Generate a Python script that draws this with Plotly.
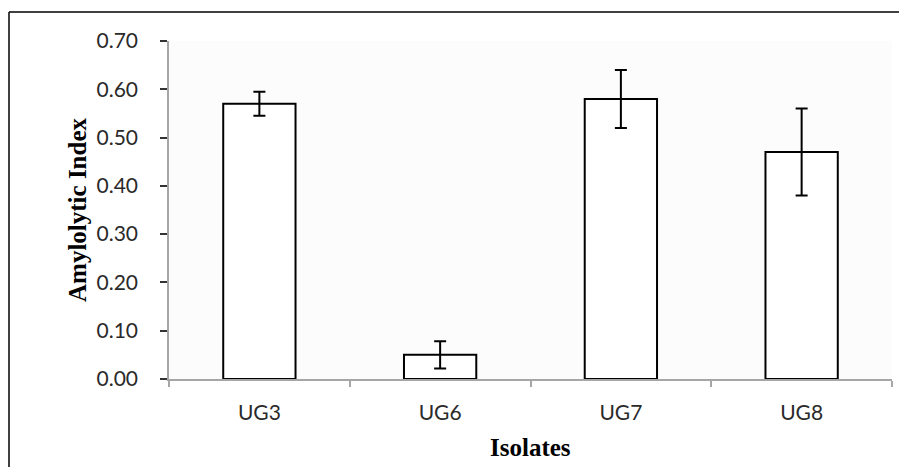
import plotly.graph_objects as go

isolates = ["UG3", "UG6", "UG7", "UG8"]
amylolytic_index = [0.57, 0.05, 0.58, 0.47]
error_sd = [0.025, 0.028, 0.06, 0.09]
y_ticks = [0.0, 0.1, 0.2, 0.3, 0.4, 0.5, 0.6, 0.7]
y_tick_labels = ["0.00", "0.10", "0.20", "0.30", "0.40", "0.50", "0.60", "0.70"]

W, H = 899, 467
L, R, T, B = 169, 7, 41, 88
pw, ph = W - L - R, H - T - B

def px_x(px):
    return (px - L) / pw

def px_y(py):
    return (H - B - py) / ph

fig = go.Figure(
    go.Bar(
        x=isolates,
        y=amylolytic_index,
        width=0.4,
        marker=dict(color="white", line=dict(color="black", width=2)),
        error_y=dict(type="data", array=error_sd, visible=True,
                     color="black", thickness=2, width=6),
    )
)

fig.update_layout(
    width=W, height=H,
    margin=dict(l=L, r=R, t=T, b=B),
    paper_bgcolor="white",
    plot_bgcolor="#fcfcfc",
    showlegend=False,
    font=dict(family="Lato, Open Sans, sans-serif", color="#2a2a2a", size=21),
    xaxis=dict(
        showline=True, linecolor="#a6a6a6", linewidth=1.5,
        ticks="outside", tickson="boundaries", ticklen=6,
        tickcolor="#a6a6a6", tickwidth=1.5,
        tickfont=dict(size=21, color="#2a2a2a"),
        ticklabelstandoff=14,
        showgrid=False, zeroline=False,
    ),
    yaxis=dict(
        range=[0, 0.7], tickvals=y_ticks, ticktext=y_tick_labels,
        showline=True, linecolor="#a6a6a6", linewidth=1.5,
        ticks="outside", ticklen=7, tickcolor="#333333", tickwidth=1.5,
        tickfont=dict(size=21, color="#2a2a2a"),
        ticklabelstandoff=18,
        showgrid=False, zeroline=False,
    ),
    annotations=[
        dict(text="<b>Amylolytic Index</b>", x=px_x(77), y=0.5,
             xref="paper", yref="paper", textangle=-90, showarrow=False,
             xanchor="center", yanchor="middle",
             font=dict(family="Liberation Serif, Times New Roman, serif",
                       size=25, color="black")),
        dict(text="<b>Isolates</b>", x=px_x(530), y=px_y(447),
             xref="paper", yref="paper", showarrow=False,
             xanchor="center", yanchor="middle",
             font=dict(family="Liberation Serif, Times New Roman, serif",
                       size=25, color="black")),
    ],
    shapes=[
        dict(type="line", xref="paper", yref="paper",
             x0=px_x(9), x1=px_x(905), y0=px_y(12), y1=px_y(12),
             line=dict(color="black", width=1.5)),
        dict(type="line", xref="paper", yref="paper",
             x0=px_x(9), x1=px_x(9), y0=px_y(12), y1=px_y(475),
             line=dict(color="black", width=1.5)),
    ],
)

fig.write_html(
    "out.html",
    config={"displayModeBar": False},
    post_script="document.body.style.margin='0';document.body.style.overflow='hidden';",
)
